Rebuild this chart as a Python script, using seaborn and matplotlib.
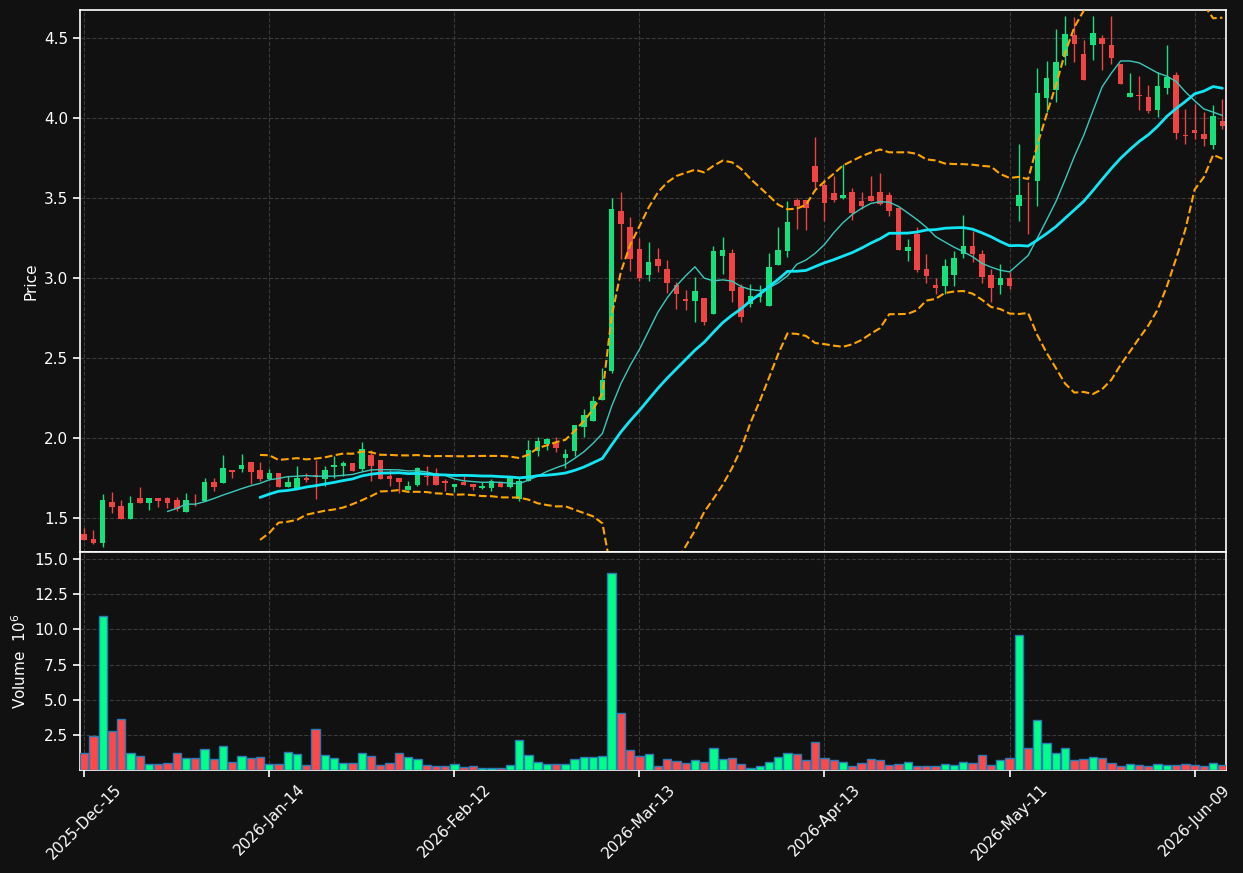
import numpy as np
import pandas as pd
import matplotlib
matplotlib.use("Agg")
import matplotlib.pyplot as plt
import seaborn as sns

# trading days (US market holidays skipped)
holidays = ["2025-12-25", "2026-01-01", "2026-01-19", "2026-02-16", "2026-04-03", "2026-05-25"]
dates = pd.bdate_range("2025-12-15", "2026-06-12")
dates = dates[~dates.isin(pd.to_datetime(holidays))]

opens = [1.40, 1.369, 1.346, 1.60, 1.575, 1.496, 1.625, 1.596, 1.625, 1.625,
         1.6125, 1.54, 1.614, 1.608, 1.725, 1.721, 1.80, 1.806, 1.85, 1.80,
         1.744, 1.78, 1.696, 1.69, 1.752, 1.77, 1.744, 1.82, 1.827, 1.844,
         1.806, 1.894, 1.8625, 1.7625, 1.75, 1.677, 1.706, 1.76, 1.78, 1.73,
         1.696, 1.725, 1.71, 1.6875, 1.6875, 1.725, 1.696, 1.616, 1.729, 1.92,
         1.965, 1.966, 1.876, 1.92, 2.07, 2.105, 2.24, 2.417, 3.42, 3.32,
         3.18, 3.02, 3.121, 3.057, 2.958, 2.866, 2.856, 2.876, 2.775, 3.136,
         3.158, 2.945, 2.836, 2.88, 2.824, 3.084, 3.172, 3.487, 3.487, 3.703,
         3.58, 3.534, 3.50, 3.54, 3.484, 3.51, 3.54, 3.52, 3.435, 3.17,
         3.273, 3.057, 2.955, 2.948, 3.017, 3.149, 3.20, 3.149, 3.02, 2.955,
         3.0, 3.448, 3.452, 3.604, 4.127, 4.173, 4.385, 4.52, 4.40, 4.457,
         4.503, 4.454, 4.34, 4.134, 4.14, 4.134, 4.052, 4.186, 4.27, 3.89,
         3.924, 3.90, 3.832, 3.98]
highs = [1.435, 1.425, 1.65, 1.6625, 1.61, 1.64, 1.694, 1.625, 1.625, 1.631,
         1.631, 1.654, 1.648, 1.75, 1.75, 1.894, 1.80, 1.90, 1.85, 1.85,
         1.806, 1.78, 1.76, 1.823, 1.78, 1.8625, 1.823, 1.89, 1.858, 1.844,
         1.973, 1.925, 1.8625, 1.80, 1.75, 1.733, 1.82, 1.827, 1.81, 1.744,
         1.712, 1.765, 1.71, 1.727, 1.744, 1.725, 1.76, 1.758, 1.99, 2.006,
         2.0, 2.006, 1.93, 2.08, 2.183, 2.26, 2.44, 3.50, 3.535, 3.38,
         3.25, 3.223, 3.186, 3.11, 2.975, 2.926, 3.005, 2.876, 3.203, 3.255,
         3.18, 2.963, 2.963, 2.955, 3.158, 3.317, 3.48, 3.50, 3.487, 3.88,
         3.62, 3.635, 3.711, 3.56, 3.54, 3.64, 3.659, 3.54, 3.435, 3.242,
         3.318, 3.148, 3.0, 3.12, 3.17, 3.396, 3.297, 3.173, 3.054, 3.09,
         3.04, 3.8375, 3.598, 4.3125, 4.354, 4.558, 4.64, 4.63, 4.49, 4.64,
         4.518, 4.64, 4.34, 4.28, 4.265, 4.204, 4.286, 4.457, 4.29, 4.055,
         4.09, 4.036, 4.08, 4.12]
lows = [1.36, 1.338, 1.317, 1.53, 1.496, 1.496, 1.596, 1.552, 1.571, 1.565,
        1.546, 1.54, 1.577, 1.608, 1.67, 1.721, 1.748, 1.79, 1.7125, 1.73,
        1.744, 1.696, 1.696, 1.68, 1.727, 1.619, 1.698, 1.75, 1.76, 1.796,
        1.796, 1.733, 1.744, 1.698, 1.654, 1.677, 1.698, 1.708, 1.706, 1.67,
        1.66, 1.708, 1.677, 1.68, 1.67, 1.694, 1.69, 1.604, 1.729, 1.89,
        1.925, 1.91, 1.81, 1.89, 2.006, 2.105, 2.24, 2.408, 3.117, 3.046,
        2.98, 2.98, 3.037, 2.906, 2.807, 2.80, 2.728, 2.708, 2.775, 3.025,
        2.85, 2.728, 2.82, 2.85, 2.824, 3.084, 3.13, 3.307, 3.30, 3.56,
        3.357, 3.474, 3.495, 3.365, 3.43, 3.482, 3.456, 3.39, 3.175, 3.104,
        3.039, 2.966, 2.90, 2.90, 2.95, 3.124, 3.10, 2.97, 2.85, 2.90,
        2.93, 3.358, 3.277, 3.448, 4.035, 4.10, 4.333, 4.35, 4.235, 4.363,
        4.30, 4.335, 4.21, 4.134, 4.05, 4.03, 4.006, 4.15, 3.87, 3.838,
        3.87, 3.823, 3.805, 3.93]
closes = [1.365, 1.344, 1.6125, 1.571, 1.496, 1.594, 1.596, 1.625, 1.608, 1.596,
          1.556, 1.6125, 1.61, 1.725, 1.694, 1.8125, 1.79, 1.831, 1.79, 1.744,
          1.78, 1.696, 1.723, 1.75, 1.7375, 1.765, 1.80, 1.83, 1.844, 1.796,
          1.931, 1.827, 1.744, 1.744, 1.727, 1.698, 1.8125, 1.755, 1.706, 1.72,
          1.712, 1.708, 1.694, 1.70, 1.73, 1.694, 1.753, 1.729, 1.925, 1.98,
          1.994, 1.94, 1.90, 2.08, 2.143, 2.23, 2.36, 3.434, 3.335, 3.117,
          2.998, 3.099, 3.072, 2.97, 2.899, 2.856, 2.92, 2.725, 3.17, 3.176,
          2.92, 2.757, 2.89, 2.90, 3.069, 3.173, 3.352, 3.45, 3.4375, 3.599,
          3.469, 3.487, 3.521, 3.409, 3.453, 3.482, 3.464, 3.417, 3.175, 3.193,
          3.052, 3.01, 2.936, 3.074, 3.126, 3.20, 3.149, 3.005, 2.936, 3.0,
          2.948, 3.52, 3.448, 4.158, 4.252, 4.352, 4.523, 4.46, 4.235, 4.534,
          4.463, 4.378, 4.21, 4.159, 4.137, 4.043, 4.20, 4.256, 3.905, 3.887,
          3.905, 3.866, 4.01, 3.95]
# volume in millions
volumes = [1.19, 2.40, 10.98, 2.76, 3.62, 1.19, 0.98, 0.40, 0.40, 0.48,
           1.19, 0.83, 0.83, 1.48, 0.76, 1.69, 0.55, 0.98, 0.83, 0.90,
           0.40, 0.40, 1.26, 1.12, 0.33, 2.90, 1.05, 0.83, 0.48, 0.48,
           1.19, 0.98, 0.33, 0.48, 1.19, 0.90, 0.76, 0.33, 0.26, 0.26,
           0.40, 0.19, 0.26, 0.12, 0.12, 0.12, 0.32, 2.10, 1.10, 0.54,
           0.46, 0.46, 0.46, 0.81, 0.94, 0.89, 1.03, 13.98, 4.02, 1.40,
           0.97, 1.16, 0.28, 0.80, 0.66, 0.51, 0.74, 0.57, 1.57, 0.80,
           0.85, 0.43, 0.14, 0.28, 0.60, 0.94, 1.22, 1.16, 0.69, 1.97,
           0.84, 0.69, 0.60, 0.30, 0.48, 0.75, 0.69, 0.39, 0.45, 0.54,
           0.30, 0.30, 0.28, 0.43, 0.37, 0.60, 0.51, 1.08, 0.37, 0.74,
           0.83, 9.57, 1.54, 3.56, 1.94, 1.23, 1.57, 0.71, 0.77, 0.94,
           0.87, 0.52, 0.31, 0.45, 0.38, 0.31, 0.45, 0.38, 0.38, 0.45,
           0.38, 0.31, 0.52, 0.38]

df = pd.DataFrame({"Open": opens, "High": highs, "Low": lows, "Close": closes,
                   "Volume": volumes}, index=dates[:len(opens)])
df["pos"] = np.arange(len(df))
df["up"] = np.where(df["Close"] >= df["Open"], "up", "down")
df["ma10"] = df["Close"].rolling(10).mean()
df["ma20"] = df["Close"].rolling(20).mean()
std20 = df["Close"].rolling(20).std()
df["bb_up"] = df["ma20"] + 2 * std20
df["bb_lo"] = df["ma20"] - 2 * std20

BG = "#111111"
UP_C, DOWN_C = "#16e07c", "#f04444"
UP_V, DOWN_V = "#00ff88", "#ff4848"

sns.set_theme(style="dark", rc={
    "figure.facecolor": BG, "axes.facecolor": BG, "axes.edgecolor": "white",
    "axes.labelcolor": "white", "xtick.color": "white", "ytick.color": "white",
    "text.color": "white", "grid.color": "#3a3a3a", "grid.linestyle": "--",
    "axes.grid": True, "xtick.bottom": True, "ytick.left": True,
    "axes.linewidth": 1.2,
})
plt.rcParams["font.family"] = ["DejaVu Sans"]

fig = plt.figure(figsize=(12.43, 8.73), dpi=100)
ax = fig.add_axes([0.0644, 0.3677, 0.922, 0.6208])
axv = fig.add_axes([0.0644, 0.118, 0.922, 0.2497], sharex=ax)

# candles
col = np.where(df["up"] == "up", UP_C, DOWN_C)
ax.vlines(df["pos"], df["Low"], df["High"], colors=col, lw=1, zorder=2)
body = (df["Close"] - df["Open"]).abs().clip(lower=0.005)
ax.bar(df["pos"], body, bottom=df[["Open", "Close"]].min(axis=1), width=0.6,
       color=col, zorder=3, linewidth=0)

# moving averages and bands
sns.lineplot(x=df["pos"], y=df["ma10"], ax=ax, color="#3cc9bd", lw=1, zorder=4)
sns.lineplot(x=df["pos"], y=df["ma20"], ax=ax, color="#12e6f5", lw=2, zorder=4)
sns.lineplot(x=df["pos"], y=df["bb_up"], ax=ax, color="#ffa500", lw=1.5, ls="--", zorder=4)
sns.lineplot(x=df["pos"], y=df["bb_lo"], ax=ax, color="#ffa500", lw=1.5, ls="--", zorder=4)

ax.set_ylim(1.2875, 4.675)
ax.set_yticks([1.5, 2.0, 2.5, 3.0, 3.5, 4.0, 4.5])
ax.set_ylabel("Price", fontsize=11)
ax.set_xlabel("")
ax.tick_params(axis="x", labelbottom=False, length=0)
ax.tick_params(axis="y", labelsize=11, length=5, width=1.2)

# volume
sns.barplot(data=df, x="pos", y="Volume", hue="up", palette={"up": UP_V, "down": DOWN_V},
            native_scale=True, dodge=False, width=0.9, legend=False, ax=axv,
            saturation=1, edgecolor="#2a7ab8", linewidth=1, zorder=3)
axv.set_ylim(0, 15.5)
axv.set_yticks([2.5, 5.0, 7.5, 10.0, 12.5, 15.0])
axv.set_ylabel("Volume  $10^{6}$", fontsize=11)
axv.set_xlabel("")

ticks = np.arange(0, len(df), 20)
axv.set_xticks(ticks)
axv.set_xticklabels([d.strftime("%Y-%b-%d") for d in df.index[ticks]], rotation=45, fontsize=11)
axv.tick_params(axis="both", labelsize=11, length=5, width=1.2)
axv.set_xlim(-0.45, len(df) - 0.6)

for a in (ax, axv):
    a.grid(True, ls="--", color="#3a3a3a", lw=0.8)
    for s in a.spines.values():
        s.set_color("white")

fig.savefig("out.png", dpi=100, facecolor=BG)
